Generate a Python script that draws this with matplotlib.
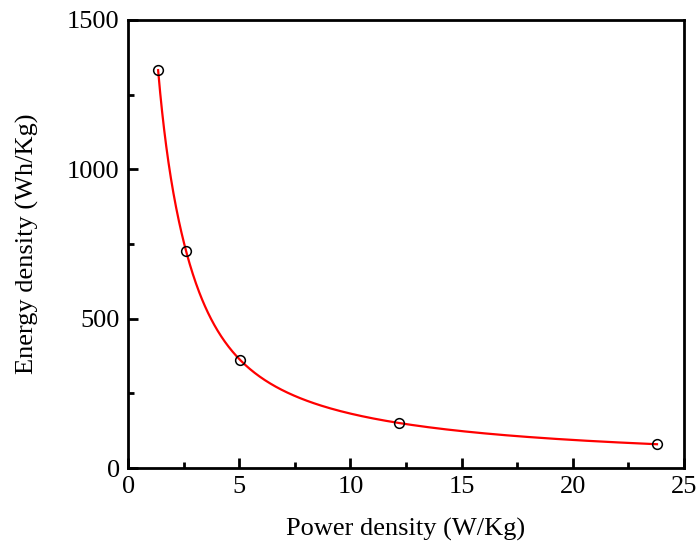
import numpy as np
import matplotlib
matplotlib.use('Agg')
import matplotlib.pyplot as plt
from matplotlib.ticker import MultipleLocator

# ── Data ───────────────────────────────────────────────────────────────────────
power_density = [1.35, 2.61, 5.04, 12.19, 23.79]   # W/Kg
energy_density = [1332, 726, 362, 151, 80]         # Wh/Kg


def natural_spline(x, y, xs):
    """Natural cubic spline through (x, y), evaluated at xs."""
    x = np.asarray(x, float)
    y = np.asarray(y, float)
    n = len(x)
    h = np.diff(x)
    A = np.zeros((n, n))
    b = np.zeros(n)
    A[0, 0] = A[-1, -1] = 1
    for i in range(1, n - 1):
        A[i, i - 1] = h[i - 1]
        A[i, i] = 2 * (h[i - 1] + h[i])
        A[i, i + 1] = h[i]
        b[i] = 3 * ((y[i + 1] - y[i]) / h[i] - (y[i] - y[i - 1]) / h[i - 1])
    c = np.linalg.solve(A, b)
    out = np.empty_like(xs)
    for k, xv in enumerate(xs):
        i = min(max(np.searchsorted(x, xv) - 1, 0), n - 2)
        d = xv - x[i]
        bi = (y[i + 1] - y[i]) / h[i] - h[i] * (2 * c[i] + c[i + 1]) / 3
        di = (c[i + 1] - c[i]) / (3 * h[i])
        out[k] = y[i] + bi * d + c[i] * d ** 2 + di * d ** 3
    return out


# smooth curve through the points, built in log-log space
lx = np.log(power_density)
ly = np.log(energy_density)
xs = np.linspace(lx[0], lx[-1], 300)
curve_x = np.exp(xs)
curve_y = np.exp(natural_spline(lx, ly, xs))

plt.rcParams['font.family'] = ['Liberation Serif', 'DejaVu Serif']

fig = plt.figure(figsize=(7, 5.54), dpi=100)
ax = fig.add_axes([0.183, 0.155, 0.794, 0.809])

ax.plot(curve_x, curve_y, color='red', lw=1.6, zorder=2)
ax.plot(power_density, energy_density, 'o', ms=7, mfc='none',
        mec='black', mew=1.1, zorder=3)

ax.set_xlim(0, 25)
ax.set_ylim(0, 1500)
ax.xaxis.set_major_locator(MultipleLocator(5))
ax.xaxis.set_minor_locator(MultipleLocator(2.5))
ax.yaxis.set_major_locator(MultipleLocator(500))
ax.yaxis.set_minor_locator(MultipleLocator(250))
ax.tick_params(which='both', direction='in', labelsize=19, width=2,
               top=False, right=False)
ax.tick_params(axis='y', pad=6)
ax.tick_params(axis='x', pad=6)
ax.tick_params(which='major', length=7)
ax.tick_params(which='minor', length=4)
for sp in ax.spines.values():
    sp.set_linewidth(2)

ax.set_xlabel('Power density (W/Kg)', fontsize=19, labelpad=14)
ax.set_ylabel('Energy density (Wh/Kg)', fontsize=19, labelpad=20)

fig.savefig('out.png', dpi=100)
